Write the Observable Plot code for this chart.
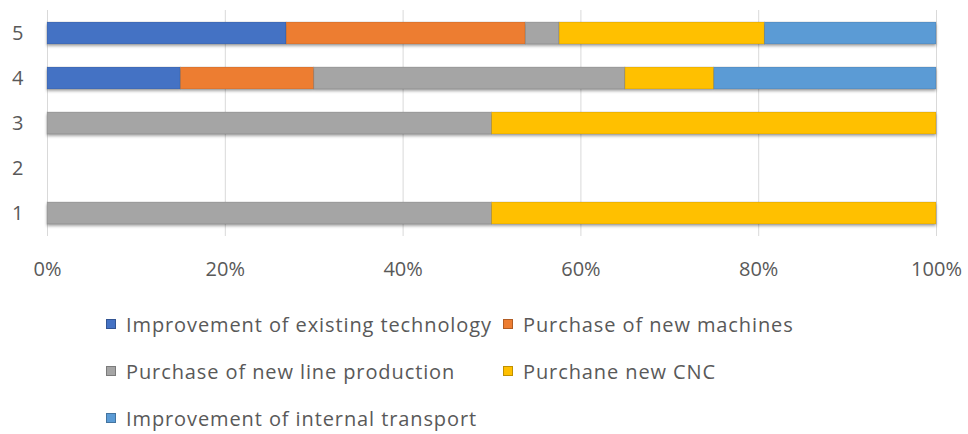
<!DOCTYPE html>
<html><head><meta charset="utf-8">
<script src="https://cdn.jsdelivr.net/npm/d3@7"></script>
<script src="https://cdn.jsdelivr.net/npm/@observablehq/plot@0.6"></script>
<style>
html,body{margin:0;padding:0;background:#fff;}
#wrap{position:relative;width:968px;height:434px;font-family:"Open Sans",sans-serif;}
#wrap svg g[aria-label="bar"]{filter:drop-shadow(0px 2px 1.5px rgba(0,0,0,0.35));}
.leg{position:absolute;display:flex;align-items:center;font-size:20px;letter-spacing:0.9px;color:#595959;white-space:nowrap;}
.leg span.sw{display:inline-block;width:10px;height:10px;margin-right:10px;box-sizing:border-box;border:1px solid rgba(0,0,0,0.25);}
</style></head><body><div id="wrap"></div><script>
const categories = ["5","4","3","2","1"];
const series = ["Improvement of existing technology","Purchase of new machines","Purchase of new line production","Purchane new CNC","Improvement of internal transport"];
const colors = ["#4472C4","#ED7D31","#A5A5A5","#FFC000","#5B9BD5"];
// values per category in order 1..5 (percent)
const cat = ["1","2","3","4","5"];
const improvementExisting = [0, 0, 0, 15, 26.9];
const purchaseMachines = [0, 0, 0, 15, 26.9];
const purchaseLine = [50, 0, 50, 35, 3.8];
const purchaseCNC = [50, 0, 50, 10, 23.1];
const improvementTransport = [0, 0, 0, 25, 19.3];
const xTicks = [0, 20, 40, 60, 80, 100];

const seriesValues = [improvementExisting, purchaseMachines, purchaseLine, purchaseCNC, improvementTransport];
const data = [];
series.forEach((s, i) => cat.forEach((c, j) => data.push({cat: c, series: s, value: seriesValues[i][j]})));

const plot = Plot.plot({
  width: 968, height: 290,
  marginLeft: 47, marginRight: 32, marginTop: 10, marginBottom: 54,
  style: {fontFamily: '"Open Sans", sans-serif', fontSize: "20px", color: "#595959", background: "#fff", overflow: "visible"},
  x: {domain: [0, 100], ticks: xTicks, tickFormat: d => d + "%", label: null},
  y: {domain: categories, paddingInner: 0.52, paddingOuter: 0.26, label: null},
  color: {domain: series, range: colors},
  marks: [
    Plot.gridX(xTicks, {stroke: "#d9d9d9", strokeOpacity: 1, strokeWidth: 1}),
    Plot.barX(data, Plot.stackX({x: "value", y: "cat", fill: "series", order: series, stroke: "rgba(0,0,0,0.12)", strokeWidth: 1})),
    Plot.axisX({ticks: xTicks, tickFormat: d => d + "%", tickSize: 0, tickPadding: 25, label: null, fill: "#595959"}),
    Plot.axisY({tickSize: 0, tickPadding: 24, label: null, fill: "#595959"})
  ]
});
const wrap = document.getElementById("wrap");
wrap.appendChild(plot);

const legPos = [[106, 324], [503, 324], [106, 371], [503, 371], [106, 418]];
series.forEach((s, i) => {
  const d = document.createElement("div");
  d.className = "leg";
  d.style.left = legPos[i][0] + "px";
  d.style.top = (legPos[i][1] - 14) + "px";
  d.style.height = "28px";
  d.innerHTML = `<span class="sw" style="background:${colors[i]}"></span><span>${s}</span>`;
  wrap.appendChild(d);
});
</script></body></html>
